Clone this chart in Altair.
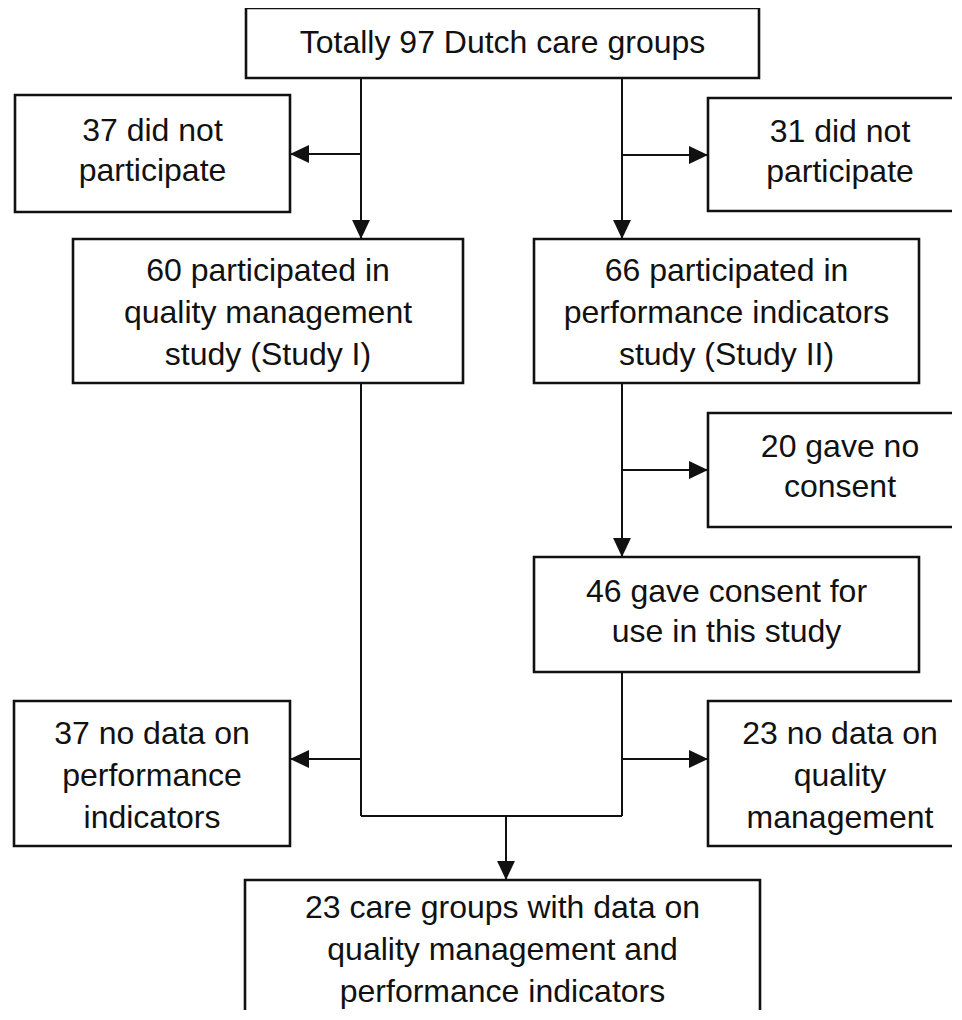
import altair as alt
import pandas as pd

# ---- boxes (pixel coordinates of the original figure) ----
box_left   = [246, 15, 708, 73, 534, 708, 534, 14, 708, 245]
box_right  = [759, 290, 972, 463, 919, 972, 919, 290, 972, 760]
box_top    = [8, 95, 98, 239, 239, 413, 557, 701, 701, 880]
box_bottom = [78, 212, 211, 383, 383, 527, 672, 846, 846, 1016]
box_labels = [
    ["Totally 97 Dutch care groups"],
    ["37 did not", "participate"],
    ["31 did not", "participate"],
    ["60 participated in", "quality management", "study (Study I)"],
    ["66 participated in", "performance indicators", "study (Study II)"],
    ["20 gave no", "consent"],
    ["46 gave consent for", "use in this study"],
    ["37 no data on", "performance", "indicators"],
    ["23 no data on", "quality", "management"],
    ["23 care groups with data on", "quality management and", "performance indicators"],
]

# ---- connector segments ----
seg_x1 = [361, 361, 622, 622, 361, 361, 622, 622, 622, 622, 361, 506]
seg_y1 = [78, 154, 78, 155, 383, 759, 383, 470, 672, 759, 816, 816]
seg_x2 = [361, 290, 622, 708, 361, 290, 622, 708, 622, 708, 622, 506]
seg_y2 = [239, 154, 239, 155, 816, 759, 557, 470, 816, 759, 816, 880]

# ---- arrow heads (tip positions) ----
arrow_x = [361, 290, 622, 708, 290, 622, 708, 708, 506]
arrow_y = [239, 154, 239, 155, 759, 557, 470, 759, 880]
arrow_dir = ["down", "left", "down", "right", "left", "down", "right", "right", "down"]

head_paths = {
    "down": "M0,0L-0.47,-1L0.47,-1Z",
    "left": "M0,0L1,-0.47L1,0.47Z",
    "right": "M0,0L-1,-0.47L-1,0.47Z",
}

boxes = pd.DataFrame({"x": box_left, "x2": box_right, "y": box_top, "y2": box_bottom})
segs = pd.DataFrame({"x": seg_x1, "y": seg_y1, "x2": seg_x2, "y2": seg_y2})
heads = pd.DataFrame({"x": arrow_x, "y": arrow_y,
                      "shape": [head_paths[d] for d in arrow_dir]})

rows = []
for l, r, t, b, lines in zip(box_left, box_right, box_top, box_bottom, box_labels):
    n = len(lines)
    cx = (l + r) / 2
    cy = (t + b) / 2
    spacing = 42 if n == 3 else 40
    off = 2 if n == 3 else (-3 if n == 2 else 0)
    for i, s in enumerate(lines):
        rows.append({"x": cx, "y": cy + off + (i - (n - 1) / 2) * spacing, "text": s})
texts = pd.DataFrame(rows)

W, H = 944, 1002
xs = alt.Scale(domain=[8, 8 + W], nice=False, zero=False)
ys = alt.Scale(domain=[8, 8 + H], nice=False, zero=False, reverse=True)

rect = alt.Chart(boxes).mark_rect(
    fill="white", stroke="#111", strokeWidth=2.6, clip=True
).encode(
    x=alt.X("x:Q", scale=xs, axis=None),
    x2="x2:Q",
    y=alt.Y("y:Q", scale=ys, axis=None),
    y2="y2:Q",
)

rule = alt.Chart(segs).mark_rule(color="#111", strokeWidth=2).encode(
    x=alt.X("x:Q", scale=xs, axis=None),
    x2="x2:Q",
    y=alt.Y("y:Q", scale=ys, axis=None),
    y2="y2:Q",
)

head = alt.Chart(heads).mark_point(
    filled=True, fill="#111", strokeWidth=0, opacity=1, size=1444
).encode(
    x=alt.X("x:Q", scale=xs, axis=None),
    y=alt.Y("y:Q", scale=ys, axis=None),
    shape=alt.Shape("shape:N", scale=None, legend=None),
)

text = alt.Chart(texts).mark_text(
    font="Liberation Sans", fontSize=32, color="#111",
    align="center", baseline="middle"
).encode(
    x=alt.X("x:Q", scale=xs, axis=None),
    y=alt.Y("y:Q", scale=ys, axis=None),
    text="text:N",
)

chart = alt.layer(rect, rule, head, text).properties(
    width=W, height=H, padding=0, autosize=alt.AutoSizeParams(type="none")
).configure(
    background="white", view=alt.ViewConfig(stroke=None)
)

chart.save("out.html", embed_options={"renderer": "svg", "actions": False})
